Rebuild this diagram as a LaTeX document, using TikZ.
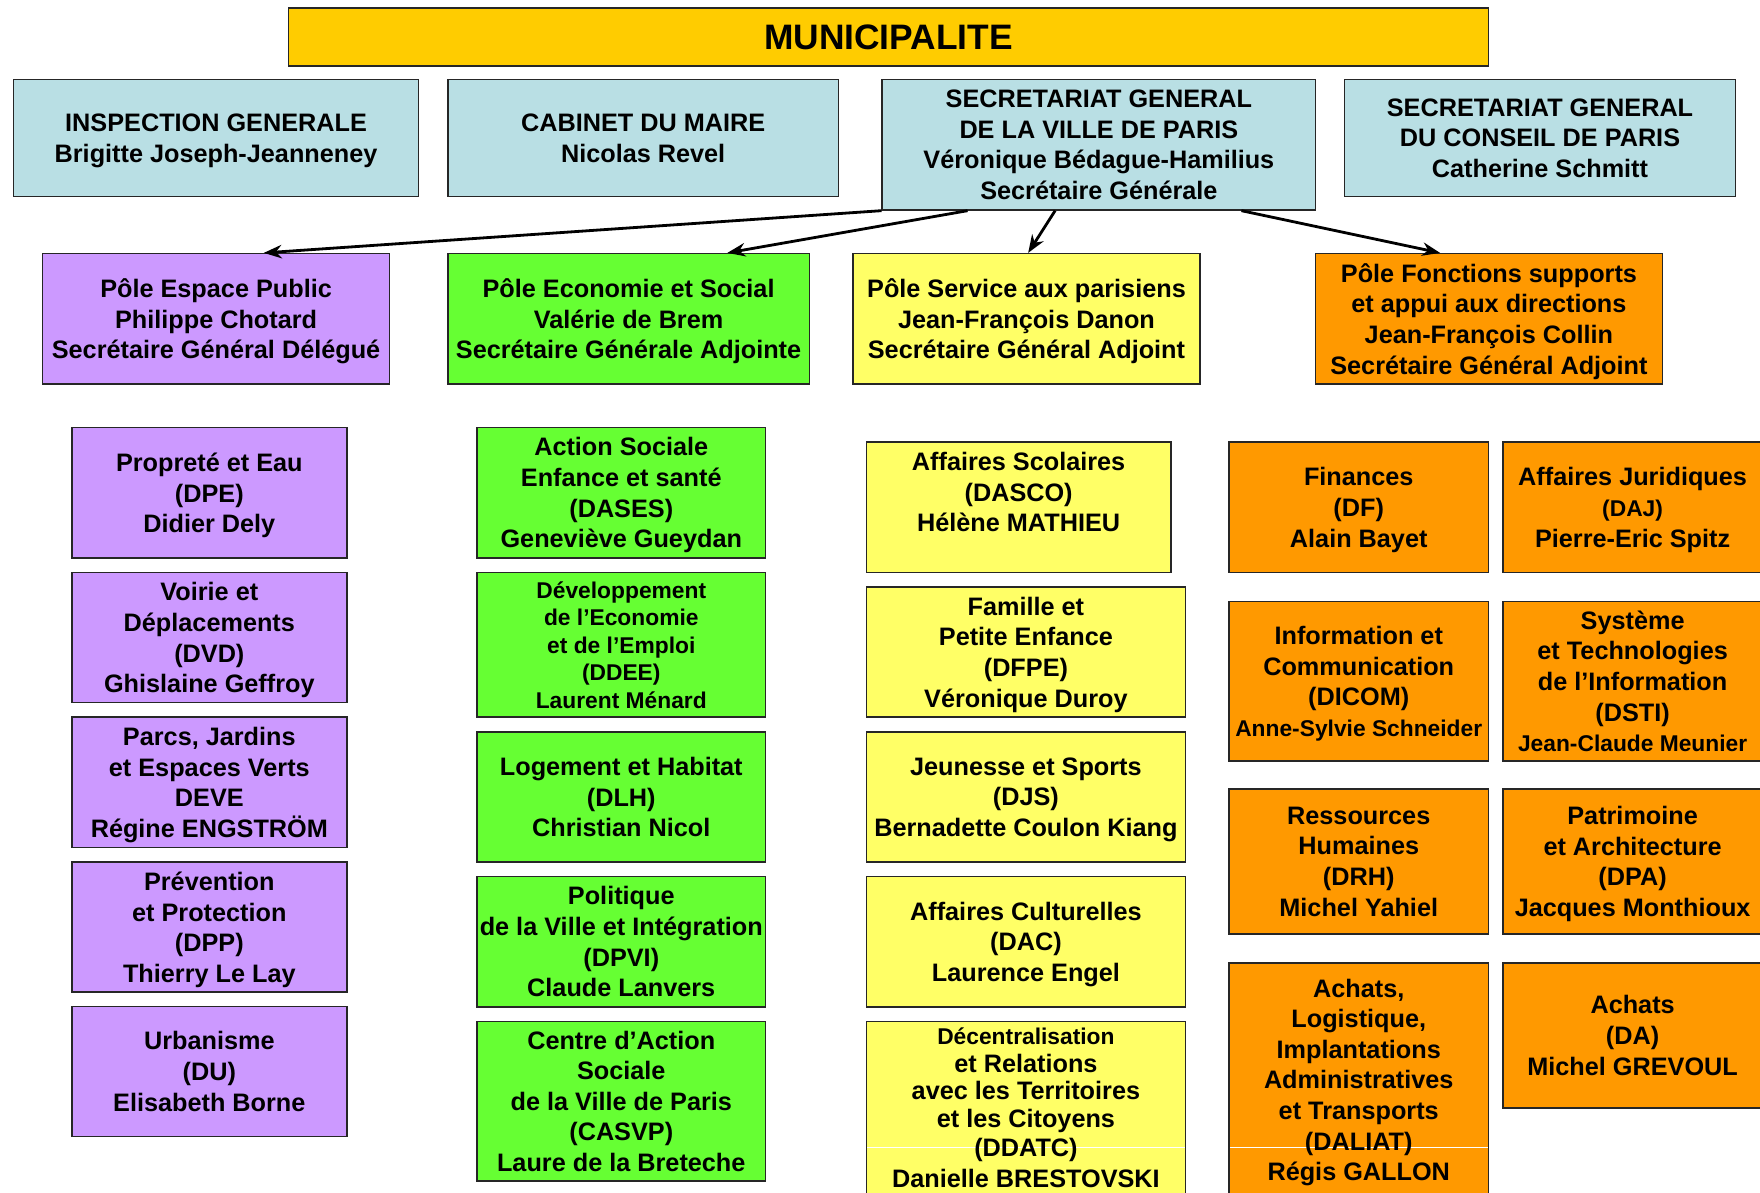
\documentclass[tikz,border=0pt]{standalone}
\usepackage{fontspec}
\setmainfont{Liberation Sans}
\usepackage{tikz}
\usetikzlibrary{arrows.meta}

\definecolor{cmuni}{HTML}{FFCC00}
\definecolor{cbleu}{HTML}{B9DFE4}
\definecolor{cviol}{HTML}{CC99FF}
\definecolor{cvert}{HTML}{66FF33}
\definecolor{cjaune}{HTML}{FFFF66}
\definecolor{corange}{HTML}{FF9900}
\newcommand{\txtn}{\fontsize{22.5}{27.3}\selectfont}
\newcommand{\txtp}{\fontsize{20.3}{24.5}\selectfont}

\tikzset{
 boite/.style={draw=black!85,line width=1.4pt,inner sep=0pt,align=center,text depth=-2pt,font=\bfseries\txtn},
 bleu/.style={boite,fill=cbleu},
 viol/.style={boite,fill=cviol,minimum width=245pt,minimum height=116pt},
 vert/.style={boite,fill=cvert,minimum width=257pt},
 jaune/.style={boite,fill=cjaune,minimum width=284pt},
 oran/.style={boite,fill=corange,minimum width=231pt},
 coupe/.style={path picture={\draw[white,line width=1pt] ([yshift=-#1]path picture bounding box.west) -- ([yshift=-#1]path picture bounding box.east);}},
 fleche/.style={-{Stealth[length=16pt,width=12pt]},line width=2.5pt}
}

\begin{document}
\begin{tikzpicture}[x=1pt,y=-1pt]
 \useasboundingbox[fill=white] (0,0) rectangle (1568,1062);
 \node[boite,fill=cmuni,minimum width=1069pt,minimum height=52pt,text depth=-4pt,font=\bfseries\fontsize{31.5}{36}\selectfont] (muni) at (791.5,33) {MUNICIPALITE};

 \node[bleu,minimum width=361pt,minimum height=104pt] (insp) at (192.5,123) {INSPECTION GENERALE\\Brigitte Joseph-Jeanneney};
 \node[bleu,minimum width=348pt,minimum height=104pt] (cab) at (573,123) {CABINET DU MAIRE\\Nicolas Revel};
 \node[bleu,minimum width=386pt,minimum height=116pt] (sg) at (979,129) {SECRETARIAT GENERAL\\DE LA VILLE DE PARIS\\Véronique Bédague-Hamilius\\Secrétaire Générale};
 \node[bleu,minimum width=348pt,minimum height=104pt] (sgcp) at (1372,123) {SECRETARIAT GENERAL\\DU CONSEIL DE PARIS\\Catherine Schmitt};

 \node[boite,fill=cviol,minimum width=309pt,minimum height=116pt] (pep) at (192.5,284) {Pôle Espace Public\\Philippe Chotard\\Secrétaire Général Délégué};
 \node[boite,fill=cvert,minimum width=322pt,minimum height=116pt] (pes) at (560,284) {Pôle Economie et Social\\Valérie de Brem\\Secrétaire Générale Adjointe};
 \node[boite,fill=cjaune,minimum width=309pt,minimum height=116pt] (psp) at (914.5,284) {Pôle Service aux parisiens\\Jean-François Danon\\Secrétaire Général Adjoint};
 \node[boite,fill=corange,minimum width=309pt,minimum height=116pt] (pfs) at (1326.5,284) {Pôle Fonctions supports\\et appui aux directions\\Jean-François Collin\\Secrétaire Général Adjoint};

 \draw[fleche] (sg.south west) -- ([xshift=42.5pt]pep.north);
 \draw[fleche] ([xshift=-117pt]sg.south) -- ([xshift=88pt]pes.north);
 \draw[fleche] ([xshift=-39pt]sg.south) -- ([xshift=1.5pt]psp.north);
 \draw[fleche] ([xshift=127pt]sg.south) -- ([xshift=-43.5pt]pfs.north);

 \node[viol] (dpe) at (186.5,439) {Propreté et Eau\\(DPE)\\Didier Dely};
 \node[viol] (dvd) at (186.5,568) {Voirie et\\Déplacements\\(DVD)\\Ghislaine Geffroy};
 \node[viol] (deve) at (186.5,697) {Parcs, Jardins\\et Espaces Verts\\DEVE\\Régine ENGSTRÖM};
 \node[viol] (dpp) at (186.5,826) {Prévention\\et Protection\\(DPP)\\Thierry Le Lay};
 \node[viol] (du) at (186.5,954.5) {Urbanisme\\(DU)\\Elisabeth Borne};

 \node[vert,minimum height=116pt] (dases) at (553.5,439) {Action Sociale\\Enfance et santé\\(DASES)\\Geneviève Gueydan};
 \node[vert,minimum height=129pt,font=\bfseries\txtp] (ddee) at (553.5,574.5) {Développement\\de l’Economie\\et de l’Emploi\\(DDEE)\\Laurent Ménard};
 \node[vert,minimum height=116pt] (dlh) at (553.5,710) {Logement et Habitat\\(DLH)\\Christian Nicol};
 \node[vert,minimum height=116pt] (dpvi) at (553.5,839) {Politique\\de la Ville et Intégration\\(DPVI)\\Claude Lanvers};
 \node[vert,minimum height=142pt] (casvp) at (553.5,981) {Centre d’Action\\Sociale\\de la Ville de Paris\\(CASVP)\\Laure de la Breteche};

 \node[jaune,minimum width=271pt,minimum height=116pt] (dasco) at (907.5,452) {Affaires Scolaires\\(DASCO)\\Hélène MATHIEU\\\mbox{}};
 \node[jaune,minimum height=116pt] (dfpe) at (914,581) {Famille et\\Petite Enfance\\(DFPE)\\Véronique Duroy};
 \node[jaune,minimum height=116pt] (djs) at (914,710) {Jeunesse et Sports\\(DJS)\\Bernadette Coulon Kiang};
 \node[jaune,minimum height=116pt] (dac) at (914,839) {Affaires Culturelles\\(DAC)\\Laurence Engel};
 \node[jaune,coupe=35pt,minimum height=154pt] (ddatc) at (914,987) {\txtp Décentralisation\\[-2.8pt]et Relations\\[-2.8pt]avec les Territoires\\[-2.8pt]et les Citoyens\\[-1pt]\txtn (DDATC)\\Danielle BRESTOVSKI};

 \node[oran,minimum height=116pt] (df) at (1210.5,452) {Finances\\(DF)\\Alain Bayet};
 \node[oran,minimum height=116pt] (daj) at (1454.5,452) {Affaires Juridiques\\{\txtp (DAJ)}\\Pierre-Eric Spitz};
 \node[oran,minimum height=142pt] (dicom) at (1210.5,607) {Information et\\Communication\\(DICOM)\\{\txtp Anne-Sylvie Schneider}};
 \node[oran,minimum height=142pt] (dsti) at (1454.5,607) {Système\\et Technologies\\de l’Information\\(DSTI)\\{\txtp Jean-Claude Meunier}};
 \node[oran,minimum height=129pt] (drh) at (1210.5,767.5) {Ressources\\Humaines\\(DRH)\\Michel Yahiel};
 \node[oran,minimum height=129pt] (dpa) at (1454.5,767.5) {Patrimoine\\et Architecture\\(DPA)\\Jacques Monthioux};
 \node[oran,coupe=60pt,minimum height=208pt] (daliat) at (1210.5,962) {Achats,\\Logistique,\\Implantations\\Administratives\\et Transports\\(DALIAT)\\Régis GALLON};
 \node[oran,minimum height=129pt] (da) at (1454.5,922.5) {Achats\\(DA)\\Michel GREVOUL};
\end{tikzpicture}
\end{document}
